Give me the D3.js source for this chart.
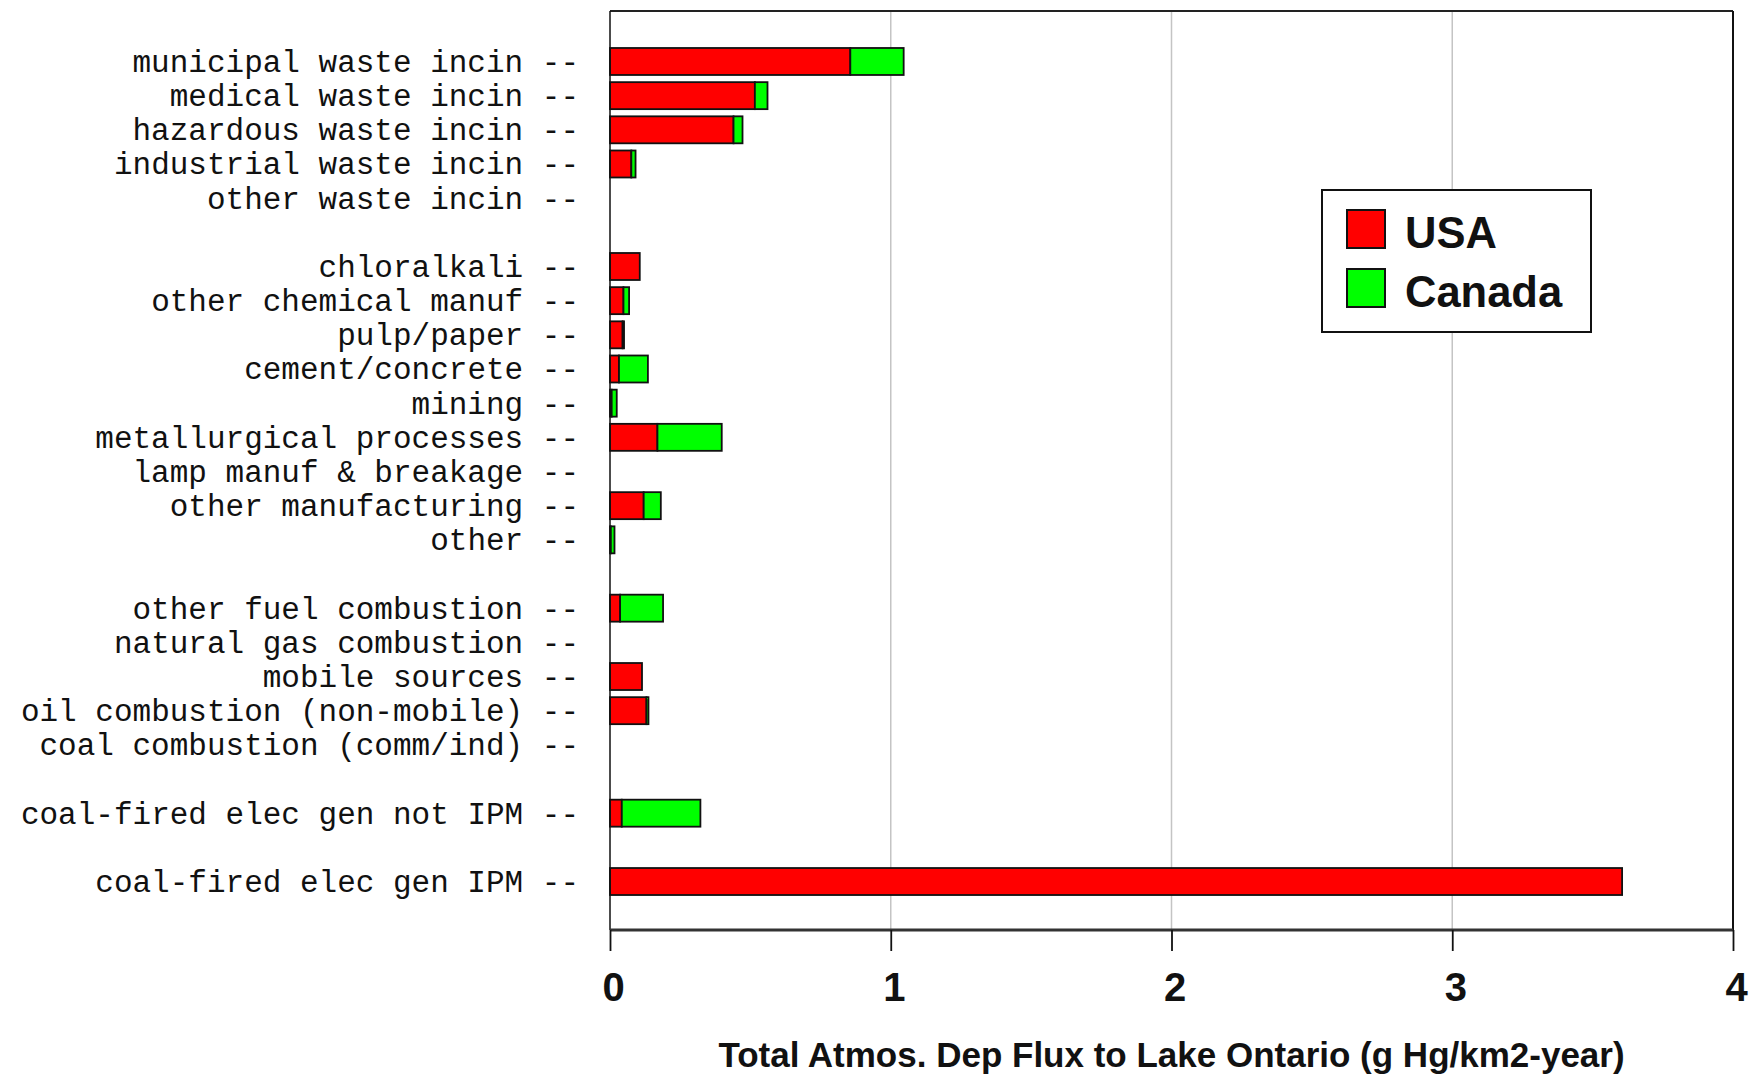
<!DOCTYPE html>
<html>
<head>
<meta charset="utf-8">
<script src="https://cdn.jsdelivr.net/npm/d3@7"></script>
<style>
  html, body { margin: 0; padding: 0; background: #ffffff; }
  svg { display: block; }
</style>
</head>
<body>
<svg id="chart" width="1754" height="1074"></svg>
<script>
// ---- data ----
const categories = [
  "municipal waste incin", "medical waste incin", "hazardous waste incin",
  "industrial waste incin", "other waste incin", "",
  "chloralkali", "other chemical manuf", "pulp/paper", "cement/concrete",
  "mining", "metallurgical processes", "lamp manuf & breakage",
  "other manufacturing", "other", "",
  "other fuel combustion", "natural gas combustion", "mobile sources",
  "oil combustion (non-mobile)", "coal combustion (comm/ind)", "",
  "coal-fired elec gen not IPM", "",
  "coal-fired elec gen IPM"
];
const usaValues = [0.856, 0.516, 0.44, 0.076, 0, 0,
  0.106, 0.048, 0.045, 0.032, 0.006, 0.169, 0, 0.12, 0.003, 0,
  0.036, 0, 0.114, 0.13, 0, 0,
  0.042, 0,
  3.605];
const canadaValues = [0.19, 0.045, 0.032, 0.015, 0, 0,
  0, 0.02, 0.005, 0.103, 0.018, 0.229, 0, 0.061, 0.013, 0,
  0.153, 0, 0, 0.007, 0, 0,
  0.28, 0,
  0];
const xTicks = [0, 1, 2, 3, 4];
const seriesNames = ["USA", "Canada"];
const seriesColors = ["#ff0000", "#00ff00"];
const xTitle = "Total Atmos. Dep Flux to Lake Ontario (g Hg/km2-year)";

// ---- layout ----
const plot = { left: 610, right: 1733, top: 11, bottom: 930 };
const svg = d3.select("#chart");

const x = d3.scaleLinear().domain([0, 4]).range([plot.left, plot.right]);
const y = d3.scaleBand()
  .domain(d3.range(categories.length))
  .range([44.4, 898.6])
  .paddingInner(0.21)
  .paddingOuter(0.105);

// gridlines
svg.append("g").selectAll("line")
  .data(xTicks.filter(t => t > 0 && t < 4))
  .join("line")
  .attr("x1", d => x(d)).attr("x2", d => x(d))
  .attr("y1", plot.top).attr("y2", plot.bottom)
  .attr("stroke", "#c4c4c4").attr("stroke-width", 1.5);

// stacked bars
const rows = categories.map((c, i) => ({ i, c, usa: usaValues[i], can: canadaValues[i] }));
const gBars = svg.append("g");
rows.forEach(r => {
  const segs = [
    { x0: 0, x1: r.usa, color: seriesColors[0] },
    { x0: r.usa, x1: r.usa + r.can, color: seriesColors[1] }
  ].filter(s => s.x1 - s.x0 > 0);
  segs.forEach(s => {
    gBars.append("rect")
      .attr("x", x(s.x0))
      .attr("y", y(r.i))
      .attr("width", x(s.x1) - x(s.x0))
      .attr("height", y.bandwidth())
      .attr("fill", s.color)
      .attr("stroke", "#111")
      .attr("stroke-width", 1.8);
  });
});

// category labels
svg.append("g").selectAll("text")
  .data(rows.filter(r => r.c !== ""))
  .join("text")
  .attr("x", 579)
  .attr("y", d => y(d.i) + y.bandwidth() / 2 + 2)
  .attr("text-anchor", "end")
  .attr("dominant-baseline", "central")
  .attr("font-family", "'Liberation Mono', 'DejaVu Sans Mono', monospace")
  .attr("font-size", 31)
  .attr("fill", "#111")
  .text(d => d.c + " --");

// frame
const frame = svg.append("g").attr("fill", "none");
frame.append("line").attr("x1", plot.left).attr("x2", plot.right).attr("y1", plot.top).attr("y2", plot.top)
  .attr("stroke", "#222").attr("stroke-width", 2);
frame.append("line").attr("x1", plot.right).attr("x2", plot.right).attr("y1", plot.top).attr("y2", plot.bottom)
  .attr("stroke", "#111").attr("stroke-width", 2);
frame.append("line").attr("x1", plot.left).attr("x2", plot.left).attr("y1", plot.top).attr("y2", plot.bottom)
  .attr("stroke", "#111").attr("stroke-width", 1.5);
frame.append("line").attr("x1", plot.left).attr("x2", plot.right).attr("y1", plot.bottom).attr("y2", plot.bottom)
  .attr("stroke", "#333").attr("stroke-width", 3);

// x axis
const axis = svg.append("g")
  .attr("transform", `translate(0,${plot.bottom})`)
  .call(d3.axisBottom(x).tickValues(xTicks).tickFormat(d3.format("d")).tickSize(21).tickPadding(22));
axis.select(".domain").remove();
axis.selectAll(".tick line").attr("stroke", "#111").attr("stroke-width", 1.8);
axis.selectAll(".tick text")
  .attr("font-family", "'Liberation Sans', Arial, sans-serif")
  .attr("font-weight", "bold")
  .attr("font-size", 40)
  .attr("fill", "#111")
  .attr("dx", 3);

// x title
svg.append("text")
  .attr("x", (plot.left + plot.right) / 2)
  .attr("y", 1067)
  .attr("text-anchor", "middle")
  .attr("font-family", "'Liberation Sans', Arial, sans-serif")
  .attr("font-weight", "bold")
  .attr("font-size", 35)
  .attr("fill", "#111")
  .text(xTitle);

// legend
const legend = svg.append("g");
legend.append("rect")
  .attr("x", 1322).attr("y", 190).attr("width", 269).attr("height", 142)
  .attr("fill", "#fff").attr("stroke", "#111").attr("stroke-width", 2);
const legY = d3.scalePoint().domain(seriesNames).range([210, 269]);
seriesNames.forEach((name, k) => {
  legend.append("rect")
    .attr("x", 1347).attr("y", legY(name)).attr("width", 38).attr("height", 38)
    .attr("fill", seriesColors[k]).attr("stroke", "#111").attr("stroke-width", 2);
  legend.append("text")
    .attr("x", 1405).attr("y", legY(name) + 38)
    .attr("font-family", "'Liberation Sans', Arial, sans-serif")
    .attr("font-weight", "bold")
    .attr("font-size", 43.5)
    .attr("fill", "#111")
    .text(name);
});
</script>
</body>
</html>
